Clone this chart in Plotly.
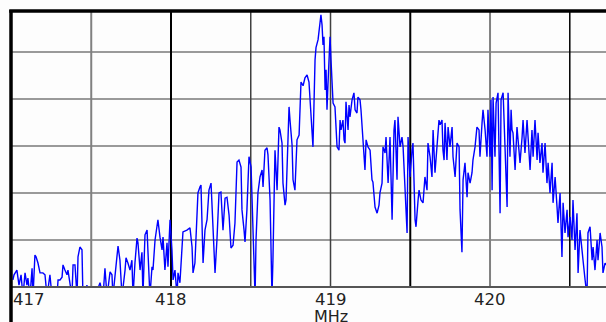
import plotly.graph_objects as go

freq_mhz = [
    417.009, 417.016, 417.034, 417.047, 417.060, 417.072, 417.085, 417.097, 417.103, 417.116,
    417.129, 417.135, 417.147, 417.154, 417.166, 417.179, 417.197, 417.210, 417.223, 417.241,
    417.254, 417.285, 417.292, 417.304, 417.317, 417.323, 417.335, 417.348, 417.354, 417.367,
    417.379, 417.386, 417.398, 417.411, 417.417, 417.429, 417.442, 417.448, 417.461, 417.473,
    417.480, 417.524, 417.555, 417.574, 417.586, 417.599, 417.618, 417.630, 417.636, 417.661,
    417.668, 417.680, 417.693, 417.712, 417.718, 417.730, 417.743, 417.755, 417.762, 417.774,
    417.787, 417.793, 417.806, 417.818, 417.824, 417.837, 417.850, 417.856, 417.868, 417.881,
    417.887, 417.900, 417.912, 417.918, 417.931, 417.944, 417.950, 417.962, 417.975, 417.981,
    417.994, 418.006, 418.013, 418.025, 418.038, 418.044, 418.056, 418.069, 418.075, 418.100,
    418.119, 418.132, 418.138, 418.150, 418.163, 418.169, 418.182, 418.188, 418.201, 418.213,
    418.226, 418.238, 418.251, 418.263, 418.276, 418.288, 418.301, 418.313, 418.326, 418.339,
    418.351, 418.364, 418.376, 418.389, 418.401, 418.414, 418.426, 418.439, 418.445, 418.458,
    418.464, 418.476, 418.489, 418.502, 418.514, 418.527, 418.533, 418.545, 418.558, 418.571,
    418.577, 418.589, 418.602, 418.608, 418.621, 418.633, 418.639, 418.652, 418.665, 418.677,
    418.683, 418.696, 418.702, 418.715, 418.721, 418.740, 418.746, 418.759, 418.765, 418.777,
    418.790, 418.803, 418.815, 418.828, 418.840, 418.853, 418.865, 418.878, 418.890, 418.903,
    418.909, 418.922, 418.928, 418.934, 418.940, 418.947, 418.953, 418.959, 418.966, 418.972,
    418.978, 418.984, 418.997, 419.003, 419.009, 419.016, 419.028, 419.041, 419.053, 419.060,
    419.066, 419.078, 419.085, 419.091, 419.097, 419.110, 419.116, 419.122, 419.135, 419.147,
    419.154, 419.166, 419.172, 419.185, 419.191, 419.204, 419.216, 419.223, 419.235, 419.248,
    419.260, 419.266, 419.279, 419.292, 419.304, 419.310, 419.323, 419.329, 419.342, 419.348,
    419.361, 419.373, 419.386, 419.398, 419.404, 419.417, 419.423, 419.436, 419.448, 419.455,
    419.467, 419.480, 419.486, 419.498, 419.511, 419.517, 419.530, 419.536, 419.549, 419.555,
    419.567, 419.580, 419.592, 419.605, 419.611, 419.624, 419.636, 419.643, 419.655, 419.668,
    419.680, 419.687, 419.699, 419.705, 419.712, 419.718, 419.730, 419.737, 419.749, 419.762,
    419.768, 419.781, 419.793, 419.806, 419.812, 419.824, 419.831, 419.843, 419.856, 419.862,
    419.875, 419.887, 419.893, 419.906, 419.918, 419.931, 419.937, 419.950, 419.956, 419.969,
    419.981, 419.987, 420.000, 420.006, 420.013, 420.019, 420.031, 420.038, 420.050, 420.063,
    420.069, 420.082, 420.094, 420.107, 420.113, 420.125, 420.132, 420.138, 420.144, 420.157,
    420.169, 420.188, 420.201, 420.207, 420.219, 420.232, 420.251, 420.263, 420.270, 420.282,
    420.295, 420.301, 420.313, 420.326, 420.332, 420.345, 420.357, 420.364, 420.376, 420.389,
    420.395, 420.408, 420.420, 420.426, 420.439, 420.451, 420.458, 420.470, 420.483, 420.489,
    420.502, 420.514, 420.520, 420.533, 420.545, 420.552, 420.564, 420.577, 420.583, 420.596,
    420.608, 420.614, 420.627, 420.640, 420.646, 420.658, 420.671, 420.677, 420.690, 420.702,
    420.708, 420.721, 420.727,
]

level_db = [
    1.5, 2.6, 3.6, 0.4, 2.6, -2, 3.0, 0.4, 1.9, -2,
    4.0, -2, 6.8, 6.4, 5.1, 3.0, 3.0, 2.6, -2, 2.6,
    -2, -2, 1.5, 1.5, 2.1, 4.7, 3.6, 2.6, 3.6, 0.9,
    -2, 4.7, 4.7, -2, 6.4, 8.5, 7.9, -2, -2, 0.4,
    -2, -2, 0.9, -2, 4.0, -2, 3.2, 2.6, -2, 6.4,
    8.7, 5.7, -2, 3.6, 6.2, 5.1, 3.6, 5.7, -2, 5.1,
    10.4, 9.4, 3.6, 7.4, -2, 11.1, 12.1, 7.2, -2, 4.3,
    3.6, 10.0, 13.6, 14.3, 10.6, 7.9, 10.6, 3.6, 9.4, 4.3,
    14.3, 7.9, 1.5, 3.6, -2, 3.0, 0.9, 10.6, 11.7, 12.1,
    12.6, 8.5, 3.0, 5.1, 16.0, 20.0, 21.3, 21.7, 5.1, 12.1,
    14.3, 20.6, 22.1, 14.3, 3.0, 10.0, 20.0, 20.2, 12.1, 18.9,
    19.1, 15.3, 8.3, 8.9, 13.6, 26.6, 27.0, 25.5, 16.4, 12.1,
    9.6, 16.4, 27.7, 25.5, 12.8, -2, 10.0, 20.0, 23.4, 24.9,
    21.3, 29.1, 29.6, 28.1, 18.5, -2, 5.7, 29.1, 20.6, 34.0,
    33.4, 30.6, 22.1, 17.4, 18.5, 38.3, 35.5, 30.2, 22.8, 20.6,
    31.3, 32.3, 43.6, 42.8, 44.5, 45.1, 43.6, 35.5, 29.8, 48.3,
    50.9, 52.6, 54.7, 56.8, 57.9, 55.7, 51.5, 53.2, 41.9, 46.2,
    37.7, 43.0, 53.2, 48.3, 44.0, 39.1, 38.3, 29.8, 29.1, 35.5,
    33.4, 35.5, 31.3, 30.6, 39.4, 33.4, 38.7, 36.2, 39.8, 41.3,
    37.7, 37.0, 40.4, 39.8, 37.7, 31.9, 24.9, 31.3, 29.8, 29.1,
    22.8, 22.3, 17.0, 15.7, 17.4, 20.0, 22.1, 29.8, 28.5, 31.9,
    22.1, 31.9, 14.3, 33.4, 35.5, 22.8, 36.2, 29.8, 31.9, 29.8,
    22.1, 11.5, 31.9, 23.4, 29.1, 30.6, 14.3, 12.8, 18.5, 20.6,
    18.5, 17.9, 23.4, 20.6, 30.6, 27.7, 23.4, 33.4, 24.3, 30.6,
    35.5, 34.5, 35.5, 29.1, 27.0, 34.9, 27.0, 34.0, 29.8, 34.0,
    27.7, 23.4, 30.6, 29.8, 16.4, 7.4, 22.8, 26.4, 19.1, 24.3,
    22.1, 24.3, 27.0, 29.8, 34.0, 33.4, 27.7, 34.9, 37.7, 33.4,
    27.7, 37.7, 27.7, 39.8, 20.6, 40.4, 27.7, 39.1, 41.3, 15.7,
    39.8, 41.3, 29.8, 17.0, 41.3, 27.7, 37.7, 33.4, 32.8, 24.9,
    34.0, 26.4, 31.9, 35.5, 28.5, 35.5, 24.9, 33.4, 27.7, 35.5,
    27.0, 32.8, 26.4, 30.6, 24.3, 30.6, 22.1, 26.4, 20.0, 26.4,
    17.9, 23.4, 17.0, 13.6, 20.0, 6.4, 17.9, 11.5, 16.4, 10.6,
    14.9, 10.0, 18.5, 7.9, 15.7, 3.0, 12.1, 8.5, 5.7, 1.5,
    -2, 11.5, 12.8, 5.7, 8.5, 3.6, 10.0, 5.7, 11.5, 8.5,
    3.0, 5.1, 4.7,
]

tick_vals = [417, 418, 419, 420]
tick_text = ["417", "418", "419", "420"]
x_label = "MHz"

fig = go.Figure()
fig.add_trace(go.Scatter(x=freq_mhz, y=level_db, mode="lines",
                         line=dict(color="#0000FF", width=1.4), hoverinfo="skip"))

shapes = []
# horizontal grid lines
for lv in [10, 20, 30, 40, 50]:
    shapes.append(dict(type="line", xref="paper", yref="y", x0=0, x1=1, y0=lv, y1=lv,
                       line=dict(color="#9a9a9a", width=2), layer="below"))
# vertical grid lines (varying darkness as in the reference)
vgrid = [(417.5, "#808080", 2), (418.0, "#000000", 2), (418.5, "#404040", 1.5),
         (419.0, "#404040", 1.5), (419.5, "#000000", 2), (420.0, "#808080", 2),
         (420.5, "#000000", 1.5)]
for xv, col, w in vgrid:
    shapes.append(dict(type="line", xref="x", yref="paper", x0=xv, x1=xv, y0=0, y1=1,
                       line=dict(color=col, width=w), layer="below"))
# bottom axis line
shapes.append(dict(type="line", xref="paper", yref="paper", x0=0, x1=1, y0=0, y1=0,
                   line=dict(color="#555555", width=2), layer="above"))
# top border
shapes.append(dict(type="line", xref="paper", yref="paper", x0=-0.003, x1=1, y0=1.0, y1=1.0,
                   line=dict(color="#000000", width=3.5), layer="above"))
# left border (extends to the bottom of the image)
shapes.append(dict(type="line", xref="paper", yref="paper", x0=0, x1=0, y0=-0.13, y1=1.004,
                   line=dict(color="#000000", width=3.5), layer="above"))

annotations = []
for tv, tt in zip(tick_vals, tick_text):
    annotations.append(dict(x=tv, y=0, xref="x", yref="paper", text=tt, showarrow=False,
                            xanchor="left" if tv == tick_vals[0] else "center",
                            yanchor="top", yshift=-1,
                            font=dict(family="DejaVu Sans", size=16.5, color="#222222")))
annotations.append(dict(x=419.0, y=0, xref="x", yref="paper", text=x_label, showarrow=False,
                        xanchor="center", yanchor="top", yshift=-18,
                        font=dict(family="DejaVu Sans", size=16, color="#222222")))

fig.update_layout(
    width=606, height=322,
    margin=dict(l=11, r=0, t=11, b=35),
    paper_bgcolor="#fdfdfd", plot_bgcolor="#fdfdfd",
    showlegend=False,
    xaxis=dict(range=[416.997, 420.727], showgrid=False, zeroline=False,
               showticklabels=False, ticks="", showline=False),
    yaxis=dict(range=[0, 58.7], showgrid=False, zeroline=False,
               showticklabels=False, ticks="", showline=False),
    shapes=shapes, annotations=annotations,
)

fig.write_html("out.html")
